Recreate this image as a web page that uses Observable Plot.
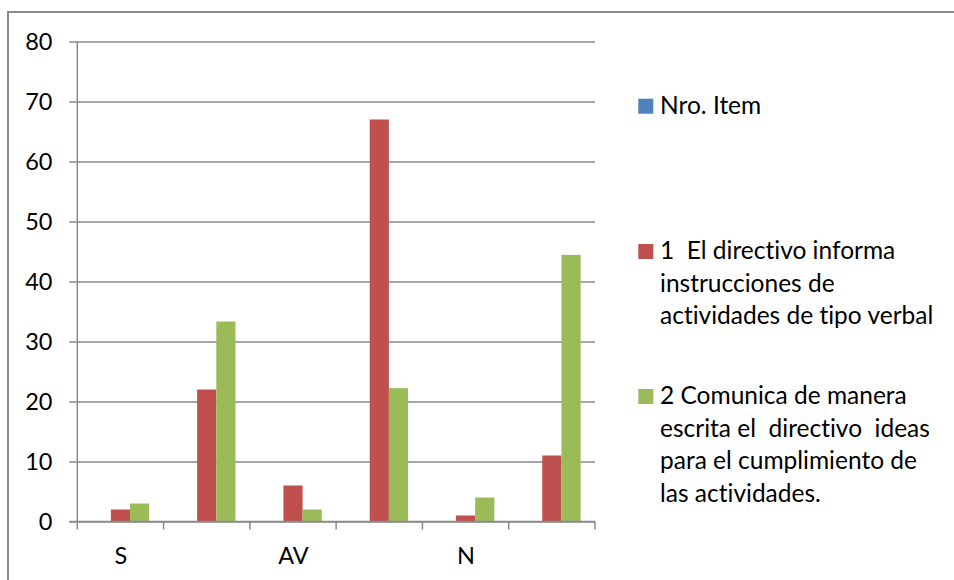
<!DOCTYPE html>
<html>
<head>
<meta charset="utf-8">
<script src="https://cdn.jsdelivr.net/npm/d3@7"></script>
<script src="https://cdn.jsdelivr.net/npm/@observablehq/plot@0.6"></script>
<style>
  body { margin: 0; background: #fff; }
  #chart { position: relative; width: 954px; height: 580px; overflow: hidden; }
  #chart svg { display: block; }
  #chart svg text, #chart svg tspan {
    font-variant-ligatures: none;
    font-feature-settings: "liga" 0, "clig" 0, "dlig" 0;
  }
</style>
</head>
<body>
<div id="chart"></div>
<script>
// Category labels along the x axis (every other column has no label)
const categories = ["S", "", "AV", "", "N", ""];

// Series names, colours and the legend text broken into its lines
const seriesNames = [
  "Nro. Item",
  "1  El directivo informa instrucciones de actividades de tipo verbal",
  "2 Comunica de manera escrita el  directivo  ideas para el cumplimiento de las actividades."
];
const seriesColors = ["#4F81BD", "#C0504D", "#9BBB59"];
const legendLines = [
  ["Nro. Item"],
  ["1  El directivo informa", "instrucciones de", "actividades de tipo verbal"],
  ["2 Comunica de manera", "escrita el  directivo  ideas", "para el cumplimiento de", "las actividades."]
];

// Values per category (the "Nro. Item" series carries no values)
const nroItem = [null, null, null, null, null, null];
const serie1 = [2, 22, 6, 67, 1, 11];
const serie2 = [3, 33.33, 2, 22.22, 4, 44.44];

// Value axis
const yTicks = [0, 10, 20, 30, 40, 50, 60, 70, 80];

const seriesValues = [nroItem, serie1, serie2];
const rows = [];
seriesValues.forEach((vals, s) => {
  vals.forEach((v, i) => {
    if (v != null) rows.push({cat: i, series: seriesNames[s], value: v});
  });
});

const FONT = "Lato, 'Open Sans', sans-serif";
const GRID = "#8a8a8a";

const chart = Plot.plot({
  width: 954,
  height: 580,
  marginLeft: 77.3,
  marginRight: 359,
  marginTop: 41.5,
  marginBottom: 58.5,
  style: {fontFamily: FONT, fontSize: "23.5px", color: "#000", background: "transparent", overflow: "visible"},
  fx: {domain: d3.range(categories.length), paddingInner: 0, paddingOuter: 0, round: false},
  x: {domain: seriesNames, paddingInner: 0, paddingOuter: 0.75, round: false, axis: null},
  y: {domain: [0, 80]},
  color: {domain: seriesNames, range: seriesColors},
  marks: [
    Plot.gridY(yTicks, {stroke: GRID, strokeOpacity: 1, strokeWidth: 1.5}),
    Plot.barY(rows, {fx: "cat", x: "series", y: "value", fill: "series", inset: 0}),
    Plot.axisY(yTicks, {anchor: "left", tickSize: 8, tickPadding: 17.3, stroke: GRID, strokeWidth: 1.5, fill: "#000", label: null}),
    Plot.axisFx({anchor: "bottom", tickSize: 0, tickPadding: 25.5, tickFormat: i => categories[i], fill: "#000", label: null})
  ]
});

document.getElementById("chart").appendChild(chart);

// Axis lines and category boundary ticks, placed from the plot's own scales
const svg = d3.select(chart);
const fx = chart.scale("fx");
const y = chart.scale("y");
const y0 = y.apply(0);
const yTop = y.apply(80);
const edges = fx.domain.map(d => fx.apply(d));
edges.push(edges[edges.length - 1] + fx.bandwidth);
const xLeft = edges[0];
const xRight = edges[edges.length - 1];

const axes = svg.append("g").attr("stroke", GRID).attr("stroke-width", 1.5).attr("fill", "none");
axes.append("line").attr("x1", xLeft - 8).attr("x2", xRight).attr("y1", y0).attr("y2", y0);
axes.append("line").attr("x1", xLeft).attr("x2", xLeft).attr("y1", yTop).attr("y2", y0 + 8);
edges.slice(1).forEach(e => {
  axes.append("line").attr("x1", e).attr("x2", e).attr("y1", y0).attr("y2", y0 + 8);
});

// Chart area border
svg.append("path")
  .attr("d", "M8,580V12H954")
  .attr("fill", "none")
  .attr("stroke", "#8a8a8a")
  .attr("stroke-width", 2);

// Legend on the right
const legendBaselines = [113.7, 259, 404];
const lineStep = 32.5;
const legend = svg.append("g")
  .attr("font-family", FONT)
  .attr("font-size", 24.5)
  .attr("fill", "#000")
  .attr("text-anchor", "start");
legendLines.forEach((lines, s) => {
  const base = legendBaselines[s];
  legend.append("rect")
    .attr("x", 638.3).attr("y", base - 15)
    .attr("width", 15).attr("height", 15)
    .attr("fill", seriesColors[s]);
  const t = legend.append("text").attr("x", 660).attr("y", base).style("white-space", "pre");
  lines.forEach((line, k) => {
    t.append("tspan").attr("x", 660).attr("y", base + k * lineStep).text(line);
  });
});
</script>
</body>
</html>
